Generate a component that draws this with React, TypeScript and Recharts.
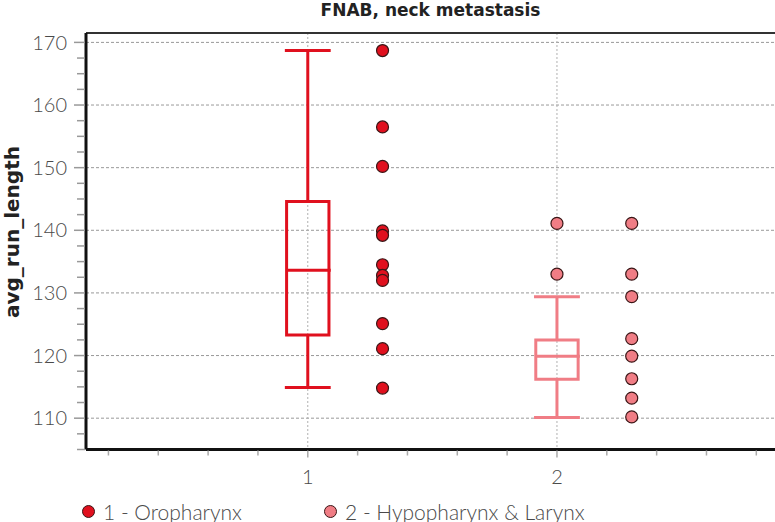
import React from "react";
import {
  ComposedChart,
  Scatter,
  XAxis,
  YAxis,
  CartesianGrid,
  ReferenceArea,
  ReferenceLine,
  Legend,
} from "recharts";

// groups on the x axis
const groupX = [1, 2];
const groupNames = ["1 - Oropharynx", "2 - Hypopharynx & Larynx"];
const groupColors = ["#e0101e", "#f07d85"];

// box plot stats
const whiskerLow = [114.9, 110.1];
const q1 = [123.3, 116.2];
const median = [133.6, 119.9];
const q3 = [144.6, 122.5];
const whiskerHigh = [168.7, 129.4];

// raw values, drawn as a column next to each box
const oroValues = [168.7, 156.5, 150.2, 139.9, 139.2, 134.5, 132.8, 132.0, 125.1, 121.1, 114.8];
const hypoValues = [141.1, 133.0, 129.4, 122.7, 119.9, 116.3, 113.2, 110.2];
// points outside the whiskers of group 2
const hypoOutliers = [141.1, 133.0];

const yTicks = [
  105, 107.5, 110, 112.5, 115, 117.5, 120, 122.5, 125, 127.5, 130, 132.5, 135, 137.5, 140,
  142.5, 145, 147.5, 150, 152.5, 155, 157.5, 160, 162.5, 165, 167.5, 170,
];
const yGrid = [110, 120, 130, 140, 150, 160, 170];
const xTicks = [0.2, 0.4, 0.6, 0.8, 1, 1.2, 1.4, 1.6, 1.8, 2, 2.2, 2.4, 2.6, 2.8];

const Y_DOMAIN = [105, 171.5];
const X_DOMAIN = [0.11, 2.875];
const COLUMN_OFFSET = 0.3; // raw points sit to the right of the box
const BOX_HALF = 0.085;
const CAP_HALF = 0.092;

const tickFont = "Lato, 'Liberation Sans', sans-serif";

const oroPoints = oroValues.map((v) => ({ x: groupX[0] + COLUMN_OFFSET, y: v }));
const hypoPoints = hypoValues.map((v) => ({ x: groupX[1] + COLUMN_OFFSET, y: v }));
const hypoOutlierPoints = hypoOutliers.map((v) => ({ x: groupX[1], y: v }));

const dot = (color: string) => (props: any) => (
  <circle cx={props.cx} cy={props.cy} r={6} fill={color} stroke="#3a1616" strokeWidth={1.2} />
);

const YTick = (props: any) => {
  const { x, y, payload } = props;
  const major = payload.value % 10 === 0;
  return (
    <g>
      <line x1={x - (major ? 12 : 9)} x2={x - 1} y1={y} y2={y} stroke="#999" strokeWidth={1.5} />
      {major && (
        <text
          x={x - 19}
          y={y}
          dy="0.36em"
          textAnchor="end"
          fill="#4a4a4a"
          fontSize={20}
          fontWeight={300}
          fontFamily={tickFont}
        >
          {payload.value}
        </text>
      )}
    </g>
  );
};

const XTick = (props: any) => {
  const { x, y, payload } = props;
  const major = Number.isInteger(payload.value);
  return (
    <g>
      <line x1={x} x2={x} y1={y + 1} y2={y + (major ? 8 : 6)} stroke="#aaa" strokeWidth={1.5} />
      {major && (
        <text
          x={x}
          y={y + 34}
          textAnchor="middle"
          fill="#4a4a4a"
          fontSize={20}
          fontWeight={300}
          fontFamily={tickFont}
        >
          {payload.value}
        </text>
      )}
    </g>
  );
};

const LegendContent = () => (
  <div style={{ position: "relative", height: 28, fontFamily: tickFont }}>
    {groupNames.map((name, i) => (
      <div
        key={name}
        style={{ position: "absolute", left: i === 0 ? 82 : 324, top: 0, display: "flex", alignItems: "center", height: 28 }}
      >
        <span
          style={{
            width: 11,
            height: 11,
            borderRadius: "50%",
            background: groupColors[i],
            border: "1px solid #3a1616",
            marginRight: 8,
          }}
        />
        <span style={{ fontSize: 21, fontWeight: 300, color: "#4a4a4a" }}>{name}</span>
      </div>
    ))}
  </div>
);

export default function App() {
  return (
    <div style={{ position: "absolute", left: 0, top: 0, width: 775, height: 522, background: "#fff" }}>
      <div
        style={{
          position: "absolute",
          left: 86,
          width: 689,
          top: 0,
          textAlign: "center",
          fontFamily: "'DejaVu Sans', sans-serif",
          fontWeight: "bold",
          fontSize: 17,
          lineHeight: "20px",
          color: "#222",
        }}
      >
        FNAB, neck metastasis
      </div>
      <div
        style={{
          position: "absolute",
          left: 12,
          top: 232,
          transform: "translate(-50%, -50%) rotate(-90deg)",
          whiteSpace: "nowrap",
          fontFamily: "'DejaVu Sans', sans-serif",
          fontWeight: "bold",
          fontSize: 20,
          color: "#222",
        }}
      >
        avg_run_length
      </div>
      <ComposedChart width={775} height={522} margin={{ top: 33, right: 0, bottom: 42.5, left: 0 }}>
        <CartesianGrid
          vertical={false}
          horizontalValues={yGrid}
          stroke="#999"
          strokeDasharray="3 2"
        />
        <CartesianGrid
          horizontal={false}
          verticalValues={groupX}
          stroke="#b0b0b0"
          strokeDasharray="2 2"
        />
        <XAxis
          type="number"
          dataKey="x"
          domain={X_DOMAIN}
          allowDataOverflow
          ticks={xTicks}
          interval={0}
          height={30}
          tickSize={0}
          tickMargin={0}
          tickLine={false}
          tick={<XTick />}
          axisLine={{ stroke: "#111", strokeWidth: 3 }}
        />
        <YAxis
          type="number"
          dataKey="y"
          domain={Y_DOMAIN}
          allowDataOverflow
          ticks={yTicks}
          interval={0}
          width={86}
          tickSize={0}
          tickMargin={0}
          tickLine={false}
          tick={<YTick />}
          axisLine={{ stroke: "#111", strokeWidth: 3 }}
        />
        <ReferenceLine y={Y_DOMAIN[1]} stroke="#333" strokeWidth={2} />

        {groupX.map((gx, i) => (
          <ReferenceArea
            key={`box-${gx}`}
            x1={gx - BOX_HALF}
            x2={gx + BOX_HALF}
            y1={q1[i]}
            y2={q3[i]}
            fill="none"
            fillOpacity={0}
            stroke={groupColors[i]}
            strokeWidth={3}
            strokeOpacity={1}
          />
        ))}
        {groupX.map((gx, i) => (
          <ReferenceLine
            key={`med-${gx}`}
            segment={[{ x: gx - BOX_HALF, y: median[i] }, { x: gx + CAP_HALF, y: median[i] }]}
            stroke={groupColors[i]}
            strokeWidth={3}
          />
        ))}
        {groupX.map((gx, i) => (
          <ReferenceLine
            key={`wh-up-${gx}`}
            segment={[{ x: gx, y: q3[i] }, { x: gx, y: whiskerHigh[i] }]}
            stroke={groupColors[i]}
            strokeWidth={3}
          />
        ))}
        {groupX.map((gx, i) => (
          <ReferenceLine
            key={`wh-lo-${gx}`}
            segment={[{ x: gx, y: q1[i] }, { x: gx, y: whiskerLow[i] }]}
            stroke={groupColors[i]}
            strokeWidth={3}
          />
        ))}
        {groupX.map((gx, i) => (
          <ReferenceLine
            key={`cap-hi-${gx}`}
            segment={[{ x: gx - CAP_HALF, y: whiskerHigh[i] }, { x: gx + CAP_HALF, y: whiskerHigh[i] }]}
            stroke={groupColors[i]}
            strokeWidth={3}
          />
        ))}
        {groupX.map((gx, i) => (
          <ReferenceLine
            key={`cap-lo-${gx}`}
            segment={[{ x: gx - CAP_HALF, y: whiskerLow[i] }, { x: gx + CAP_HALF, y: whiskerLow[i] }]}
            stroke={groupColors[i]}
            strokeWidth={3}
          />
        ))}

        <Scatter name={groupNames[0]} data={oroPoints} shape={dot(groupColors[0])} isAnimationActive={false} />
        <Scatter name={groupNames[1]} data={hypoPoints} shape={dot(groupColors[1])} isAnimationActive={false} />
        <Scatter
          name="outliers"
          data={hypoOutlierPoints}
          shape={dot(groupColors[1])}
          legendType="none"
          isAnimationActive={false}
        />

        <Legend
          layout="horizontal"
          verticalAlign="middle"
          align="center"
          content={<LegendContent />}
          wrapperStyle={{ left: 0, top: 497, width: 775, height: 28 }}
        />
      </ComposedChart>
    </div>
  );
}
